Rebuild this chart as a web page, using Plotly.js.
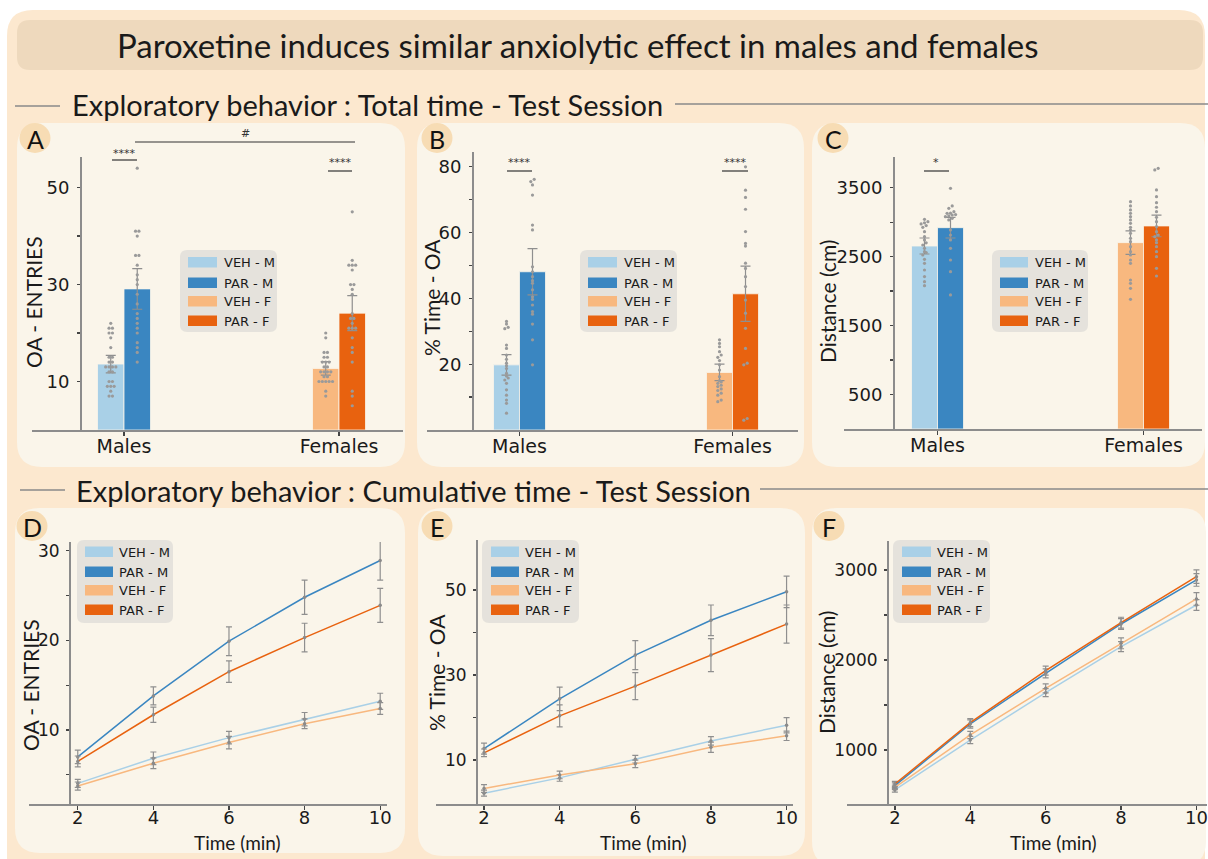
<!DOCTYPE html>
<html><head><meta charset="utf-8">
<script src="https://cdn.plot.ly/plotly-3.0.1.min.js"></script>
<style>html,body{margin:0;padding:0;background:#fff;}#chart{width:1208px;height:859px;}</style>
</head><body><div id="chart"></div>
<script>
// ---------------- DATA ----------------
const groupNames = ['VEH - M', 'PAR - M', 'VEH - F', 'PAR - F'];
const sexCategories = ['Males', 'Females'];
const groupSex = ['Males', 'Males', 'Females', 'Females'];
const timePoints = [2, 4, 6, 8, 10];

// A: OA entries (total)
const entriesMean = [13.6, 29.1, 12.7, 24.1];
const entriesSem = [1.8, 4.2, 1.4, 3.6];
const entriesVehM = [22, 21, 21, 20, 20, 19, 17, 15, 15, 14, 14, 13, 13, 13, 13, 12, 12, 10, 10, 9, 9, 9, 8, 7, 7];
const entriesParM = [54, 41, 41, 40, 36, 36, 34, 32, 31, 30, 28, 26, 24, 23, 22, 21, 20, 18, 17, 16, 14];
const entriesVehF = [20, 19, 16, 16, 15, 15, 14, 14, 14, 13, 13, 12, 12, 12, 12, 11, 11, 10, 10, 10, 10, 10, 8, 7];
const entriesParF = [45, 35, 34, 34, 34, 33, 30, 30, 29, 28, 24, 23, 23, 22, 21, 21, 21, 19, 17, 16, 14, 8, 7, 5];

// B: % time in OA (total)
const timeMean = [19.8, 48.1, 17.5, 41.4];
const timeSem = [3.1, 7.0, 2.5, 8.4];
const timeVehM = [33.0, 32.2, 31.2, 30.8, 25.8, 24.8, 22.8, 21.5, 20.3, 19.5, 18.7, 17.2, 16.4, 15.8, 15.2, 14.2, 12.2, 10.6, 9.1, 8.1, 5.1];
const timeParM = [76.2, 75.5, 74.5, 71.4, 62.3, 60.8, 49.6, 48.1, 46.6, 45.4, 44.6, 42.6, 40.5, 39.7, 38.0, 36.0, 35.2, 32.2, 27.4, 19.8];
const timeVehF = [27.4, 26.3, 25.3, 23.8, 22.8, 22.1, 21.1, 19.8, 18.2, 16.2, 15.0, 14.6, 14.2, 13.6, 13.2, 12.5, 12.0, 11.2, 10.6, 9.1, 8.6];
const timeParF = [80.0, 72.9, 70.7, 67.1, 60.3, 56.7, 55.9, 50.7, 49.1, 46.6, 43.6, 39.5, 35.5, 30.9, 24.8, 20.3, 19.8, 3.5, 3.0];

// C: distance (total)
const distMean = [2654, 2920, 2703, 2945];
const distSem = [116, 150, 170, 157];
const distVehM = [3041, 3007, 2990, 2974, 2950, 2925, 2862, 2790, 2742, 2700, 2669, 2621, 2572, 2560, 2524, 2461, 2403, 2306, 2210, 2137, 2079];
const distParM = [3491, 3235, 3201, 3152, 3130, 3128, 3110, 3104, 3090, 3080, 3056, 3032, 2887, 2814, 2742, 2621, 2451, 2282, 1944];
const distVehF = [3297, 3235, 3177, 3128, 3080, 3032, 2983, 2925, 2887, 2838, 2766, 2717, 2645, 2572, 2524, 2451, 2403, 2161, 2113, 2041, 1881];
const distParF = [3781, 3757, 3467, 3370, 3283, 3216, 3152, 3071, 3007, 2935, 2862, 2814, 2790, 2742, 2703, 2645, 2572, 2499, 2331, 2219];

// D: cumulative OA entries
const cumEntriesVehM = [4.05, 6.85, 9.15, 11.2, 13.2];
const cumEntriesParM = [7.0, 13.8, 19.9, 24.8, 28.9];
const cumEntriesVehF = [3.75, 6.3, 8.6, 10.7, 12.4];
const cumEntriesParF = [6.5, 11.7, 16.5, 20.3, 23.9];
const cumEntriesSemVehM = [0.45, 0.7, 0.7, 0.75, 0.9];
const cumEntriesSemParM = [0.75, 1.0, 1.6, 1.9, 2.2];
const cumEntriesSemVehF = [0.45, 0.6, 0.7, 0.55, 0.65];
const cumEntriesSemParF = [0.6, 0.85, 1.2, 1.6, 1.9];

// E: cumulative % time in OA
const cumTimeVehM = [2.2, 5.8, 10.2, 14.5, 18.2];
const cumTimeParM = [12.7, 24.4, 34.7, 42.9, 49.6];
const cumTimeVehF = [3.3, 6.5, 9.1, 13.0, 15.7];
const cumTimeParF = [11.7, 20.4, 27.4, 34.7, 42.0];
const cumTimeSemVehM = [0.7, 0.8, 0.9, 1.0, 1.8];
const cumTimeSemParM = [1.3, 2.75, 3.4, 3.6, 3.7];
const cumTimeSemVehF = [0.9, 0.9, 0.9, 1.2, 1.1];
const cumTimeSemParF = [0.9, 2.6, 3.2, 3.9, 4.5];

// F: cumulative distance
const cumDistVehM = [556, 1111, 1637, 2148, 2611];
const cumDistParM = [604, 1289, 1852, 2400, 2889];
const cumDistVehF = [585, 1167, 1685, 2185, 2678];
const cumDistParF = [622, 1304, 1881, 2415, 2926];
const cumDistSemVehM = [25, 40, 45, 55, 60];
const cumDistSemParM = [30, 45, 50, 60, 70];
const cumDistSemVehF = [25, 40, 50, 60, 70];
const cumDistSemParF = [30, 45, 50, 60, 75];

// ---------------- STYLE / LAYOUT ----------------
const groupColors = ['#A9D0E7', '#3A86C1', '#F8B87F', '#E8620F'];
const W = 1208, H = 859;
const fx = x => x / W, fy = y => 1 - y / H;
const AX_FONT = '"DejaVu Sans", sans-serif';
const TITLE_FONT = 'Lato, "Open Sans", sans-serif';
const shapes = [], annotations = [], traces = [];
const layout = {
  width: W, height: H, margin: {l: 0, r: 0, t: 0, b: 0},
  paper_bgcolor: '#ffffff', plot_bgcolor: 'rgba(0,0,0,0)',
  showlegend: false, barmode: 'overlay', hovermode: false,
  font: {family: AX_FONT, color: '#1a1a1a'},
  shapes: shapes, annotations: annotations
};

const P = (x, y) => fx(x).toFixed(5) + ',' + fy(y).toFixed(5);
function rr(x0, y0, x1, y1, r, fill) {
  const path = `M${P(x0 + r, y0)} L${P(x1 - r, y0)} Q${P(x1, y0)} ${P(x1, y0 + r)} L${P(x1, y1 - r)} Q${P(x1, y1)} ${P(x1 - r, y1)} L${P(x0 + r, y1)} Q${P(x0, y1)} ${P(x0, y1 - r)} L${P(x0, y0 + r)} Q${P(x0, y0)} ${P(x0 + r, y0)} Z`;
  shapes.push({type: 'path', xref: 'paper', yref: 'paper', layer: 'below', path: path, fillcolor: fill, line: {width: 0}});
}
function rect(x0, y0, x1, y1, fill) {
  shapes.push({type: 'rect', xref: 'paper', yref: 'paper', layer: 'above', x0: fx(x0), x1: fx(x1), y0: fy(y1), y1: fy(y0), fillcolor: fill, line: {width: 0}});
}
function hline(x0, x1, y, color, w, layer) {
  shapes.push({type: 'line', xref: 'paper', yref: 'paper', layer: layer || 'above', x0: fx(x0), x1: fx(x1), y0: fy(y), y1: fy(y), line: {color: color, width: w}});
}
function text(x, y, t, size, opts) {
  opts = opts || {};
  annotations.push(Object.assign({xref: 'paper', yref: 'paper', x: fx(x), y: fy(y), text: t, showarrow: false,
    xanchor: 'center', yanchor: 'middle', font: {size: size, family: opts.family || AX_FONT, color: opts.color || '#1a1a1a'}}, opts.extra || {}));
}

// Backgrounds
rr(7, 10, 1205, 900, 26, '#FCE8CF');
rr(17, 20, 1203, 70, 13, '#EED9BD');
const panelBoxes = [[17, 123, 405, 467], [417, 123, 804, 467], [812, 123, 1205, 467],
                    [15, 508, 405, 853], [418, 508, 805, 856], [812, 508, 1206, 866]];
panelBoxes.forEach(b => rr(b[0], b[1], b[2], b[3], 25, '#FAF5EA'));

// Titles
text(578, 45, 'Paroxetine induces similar anxiolytic effect in males and females', 33, {family: TITLE_FONT});
hline(15, 60, 106, '#8a8a8a', 1.5, 'below');
hline(675, 1208, 104, '#8a8a8a', 1.5, 'below');
text(70, 105, 'Exploratory behavior : Total time - Test Session', 29, {family: TITLE_FONT, extra: {xanchor: 'left'}});
hline(20, 65, 490, '#8a8a8a', 1.5, 'below');
hline(760, 1208, 489, '#8a8a8a', 1.5, 'below');
text(74, 490, 'Exploratory behavior : Cumulative time - Test Session', 29, {family: TITLE_FONT, extra: {xanchor: 'left'}});

// Panel letters
const letters = [['A', 35, 138], ['B', 437, 138], ['C', 833, 138], ['D', 32, 526], ['E', 437, 526], ['F', 829, 526]];
letters.forEach(l => {
  shapes.push({type: 'circle', xref: 'paper', yref: 'paper', layer: 'below', x0: fx(l[1] - 15.5), x1: fx(l[1] + 15.5), y0: fy(l[2] + 15), y1: fy(l[2] - 15), fillcolor: '#F7DCB4', line: {width: 0}});
  text(l[1], l[2] + 1, l[0], 25, {family: TITLE_FONT, color: '#111'});
});

function legendBox(bx0, by0, bx1, by1, sw0, sw1, tx, rowsY) {
  rr(bx0, by0, bx1, by1, 7, '#E5E2DC');
  groupNames.forEach((n, i) => {
    rect(sw0, rowsY[i] - 5.5, sw1, rowsY[i] + 5, groupColors[i]);
    text(tx, rowsY[i], n, 13, {extra: {xanchor: 'left'}});
  });
}

function axisKeys(k) { return [k === 1 ? 'xaxis' : 'xaxis' + k, k === 1 ? 'yaxis' : 'yaxis' + k, k === 1 ? 'x' : 'x' + k, k === 1 ? 'y' : 'y' + k]; }

function swarm(vals, pxPerY, pxPerX) {
  const idx = vals.map((v, i) => i).sort((a, b) => vals[a] - vals[b]);
  const offs = new Array(vals.length).fill(0);
  let i = 0;
  while (i < idx.length) {
    let j = i;
    const base = vals[idx[i]] * pxPerY;
    while (j + 1 < idx.length && (vals[idx[j + 1]] * pxPerY - base) < 2.6) j++;
    const n = j - i + 1;
    for (let q = 0; q < n; q++) offs[idx[i + q]] = (q - (n - 1) / 2) * 3.4 / pxPerX;
    i = j + 1;
  }
  return offs;
}

const axisCommon = {showgrid: false, zeroline: false, showline: true, linecolor: '#8c8c8c', linewidth: 1.5,
  ticks: 'outside', tickcolor: '#444', tickwidth: 1.3, fixedrange: true, ticklabeloverflow: 'allow'};

function barPanel(k, g, means, sems, dotSets, tickVals, tickText, title) {
  const [xk, yk, xr, yr] = axisKeys(k);
  const xr0 = (g.xL - g.c0) / g.step, xr1 = (g.xR - g.c0) / g.step;
  layout[xk] = Object.assign({}, axisCommon, {domain: [fx(g.xL), fx(g.xR)], range: [xr0, xr1], anchor: yr,
    tickmode: 'array', tickvals: sexCategories.map((c, i) => i), ticktext: sexCategories, ticklen: 4, ticklabelstandoff: -5,
    tickfont: {size: 19, family: AX_FONT, color: '#1a1a1a'}});
  layout[yk] = Object.assign({}, axisCommon, {domain: [fy(g.yBot), fy(g.yTop)], range: [g.y0, g.y1], anchor: 'free',
    position: fx(g.yAxisX), tickmode: 'array', tickvals: tickVals, ticktext: tickText, ticklen: 3, ticklabelstandoff: 4,
    tickfont: {size: 18, family: AX_FONT, color: '#1a1a1a'}});
  const bw = g.barW / g.step;
  const pxPerY = (g.yBot - g.yTop) / (g.y1 - g.y0);
  groupNames.forEach((n, i) => {
    const ci = sexCategories.indexOf(groupSex[i]);
    const left = i % 2 === 0;
    traces.push({type: 'bar', xaxis: xr, yaxis: yr, x: [ci], y: [means[i]], width: [bw], offset: [left ? -bw : 0],
      marker: {color: groupColors[i], line: {color: '#FAF5EA', width: 0.8}},
      error_y: {type: 'data', array: [sems[i]], color: '#8f8f8f', thickness: 1.2, width: 5}, hoverinfo: 'skip'});
  });
  groupNames.forEach((n, i) => {
    const ci = sexCategories.indexOf(groupSex[i]);
    const center = ci + (i % 2 === 0 ? -bw / 2 : bw / 2);
    const vals = dotSets[i];
    const offs = swarm(vals, pxPerY, g.step);
    traces.push({type: 'scatter', mode: 'markers', xaxis: xr, yaxis: yr, x: vals.map((v, j) => center + offs[j]), y: vals,
      marker: {size: 3.2, color: '#9a9a9a'}, hoverinfo: 'skip', cliponaxis: false});
  });
  text(g.titleX, g.titleY, title, 21, {family: TITLE_FONT, extra: {textangle: -90}});
}

function linePanel(k, g, series, semSets, tickVals, tickText, title) {
  const [xk, yk, xr, yr] = axisKeys(k);
  layout[xk] = Object.assign({}, axisCommon, {domain: [fx(g.xL), fx(g.xR)], range: g.xRange, anchor: yr,
    tickmode: 'array', tickvals: timePoints, ticktext: timePoints.map(String), ticklen: 4, ticklabelstandoff: -7,
    tickfont: {size: 18, family: AX_FONT, color: '#1a1a1a'}});
  layout[yk] = Object.assign({}, axisCommon, {domain: [fy(g.yBot), fy(g.yTop)], range: g.yRange, anchor: 'free',
    position: fx(g.yAxisX), tickmode: 'array', tickvals: tickVals, ticktext: tickText, ticklen: 3, ticklabelstandoff: 3,
    tickfont: {size: 17, family: AX_FONT, color: '#1a1a1a'}});
  series.forEach((s, i) => {
    traces.push({type: 'scatter', mode: 'lines+markers', xaxis: xr, yaxis: yr, x: timePoints, y: s,
      line: {color: groupColors[i], width: 1.5}, marker: {size: 3.5, color: '#8a8a8a'},
      error_y: {type: 'data', array: semSets[i], color: '#8f8f8f', thickness: 1.2, width: 3}, hoverinfo: 'skip', cliponaxis: false});
  });
  text(g.titleX, g.titleY, title, 21, {family: TITLE_FONT, extra: {textangle: -90}});
  text(g.xtX, 842, 'Time (min)', 19, {family: TITLE_FONT});
}

function sig(x0, x1, yLine, label, yText) {
  hline(x0, x1, yLine, '#333', 1.2);
  text((x0 + x1) / 2, yText, label, 11, {color: '#333'});
}

// ---- Panel A ----
barPanel(1, {xL: 32, xR: 403, c0: 124, step: 215, barW: 26.5, yTop: 157, yBot: 430, yAxisX: 80, y0: 0, y1: 56.3, titleX: 33, titleY: 302},
  entriesMean, entriesSem, [entriesVehM, entriesParM, entriesVehF, entriesParF], [10, 20, 30, 40, 50], ['10', '', '30', '', '50'], 'OA - ENTRIES');
legendBox(180, 250, 277, 332, 188, 217, 222, [262.5, 283, 301.5, 321]);
sig(112, 137, 160, '****', 153);
sig(135, 355, 142, '#', 134);
sig(328, 352, 171, '****', 163);

// ---- Panel B ----
barPanel(2, {xL: 427, xR: 798, c0: 519.5, step: 213, barW: 26, yTop: 152, yBot: 430, yAxisX: 472, y0: 0, y1: 84.5, titleX: 431, titleY: 298},
  timeMean, timeSem, [timeVehM, timeParM, timeVehF, timeParF], [10, 20, 30, 40, 50, 60, 70, 80], ['', '20', '', '40', '', '60', '', '80'], '% Time - OA');
legendBox(580, 250, 677, 332, 588, 617, 622, [262.5, 283, 301.5, 321]);
sig(507, 532, 171, '****', 163);
sig(722, 748, 171, '****', 163);

// ---- Panel C ----
barPanel(3, {xL: 844, xR: 1202, c0: 937.5, step: 206, barW: 26, yTop: 157, yBot: 429, yAxisX: 893, y0: 0, y1: 3945, titleX: 827, titleY: 302},
  distMean, distSem, [distVehM, distParM, distVehF, distParF], [500, 1000, 1500, 2000, 2500, 3000, 3500], ['500', '', '1500', '', '2500', '', '3500'], 'Distance (cm)');
legendBox(992, 250, 1088, 332, 1000, 1028, 1033, [262.5, 283, 301.5, 321]);
sig(924, 949, 171, '*', 163);

// ---- Panel D ----
linePanel(4, {xL: 29, xR: 387, xRange: [0.71, 10.18], yTop: 542, yBot: 804, yRange: [1.75, 30.96], yAxisX: 69, titleX: 30, titleY: 685, xtX: 237},
  [cumEntriesVehM, cumEntriesParM, cumEntriesVehF, cumEntriesParF], [cumEntriesSemVehM, cumEntriesSemParM, cumEntriesSemVehF, cumEntriesSemParF],
  [5, 10, 15, 20, 25, 30], ['', '10', '', '20', '', '30'], 'OA - ENTRIES');
legendBox(77, 540, 173, 623, 85, 113, 117, [552, 572, 590.5, 610]);

// ---- Panel E ----
linePanel(5, {xL: 436, xR: 793, xRange: [0.73, 10.17], yTop: 540, yBot: 804, yRange: [-0.35, 61.8], yAxisX: 476, titleX: 436, titleY: 673, xtX: 643},
  [cumTimeVehM, cumTimeParM, cumTimeVehF, cumTimeParF], [cumTimeSemVehM, cumTimeSemParM, cumTimeSemVehF, cumTimeSemParF],
  [10, 20, 30, 40, 50], ['10', '', '30', '', '50'], '% Time - OA');
legendBox(482, 540, 579, 623, 491, 519, 523, [552, 572, 590.5, 610]);

// ---- Panel F ----
linePanel(6, {xL: 847, xR: 1207, xRange: [0.73, 10.28], yTop: 541, yBot: 804, yRange: [400, 3322], yAxisX: 887, titleX: 826, titleY: 673, xtX: 1053},
  [cumDistVehM, cumDistParM, cumDistVehF, cumDistParF], [cumDistSemVehM, cumDistSemParM, cumDistSemVehF, cumDistSemParF],
  [1000, 1500, 2000, 2500, 3000], ['1000', '', '2000', '', '3000'], 'Distance (cm)');
legendBox(893, 540, 990, 623, 902, 931, 935, [552, 572, 590.5, 610]);

Plotly.newPlot('chart', traces, layout, {displayModeBar: false, staticPlot: true});
</script></body></html>
